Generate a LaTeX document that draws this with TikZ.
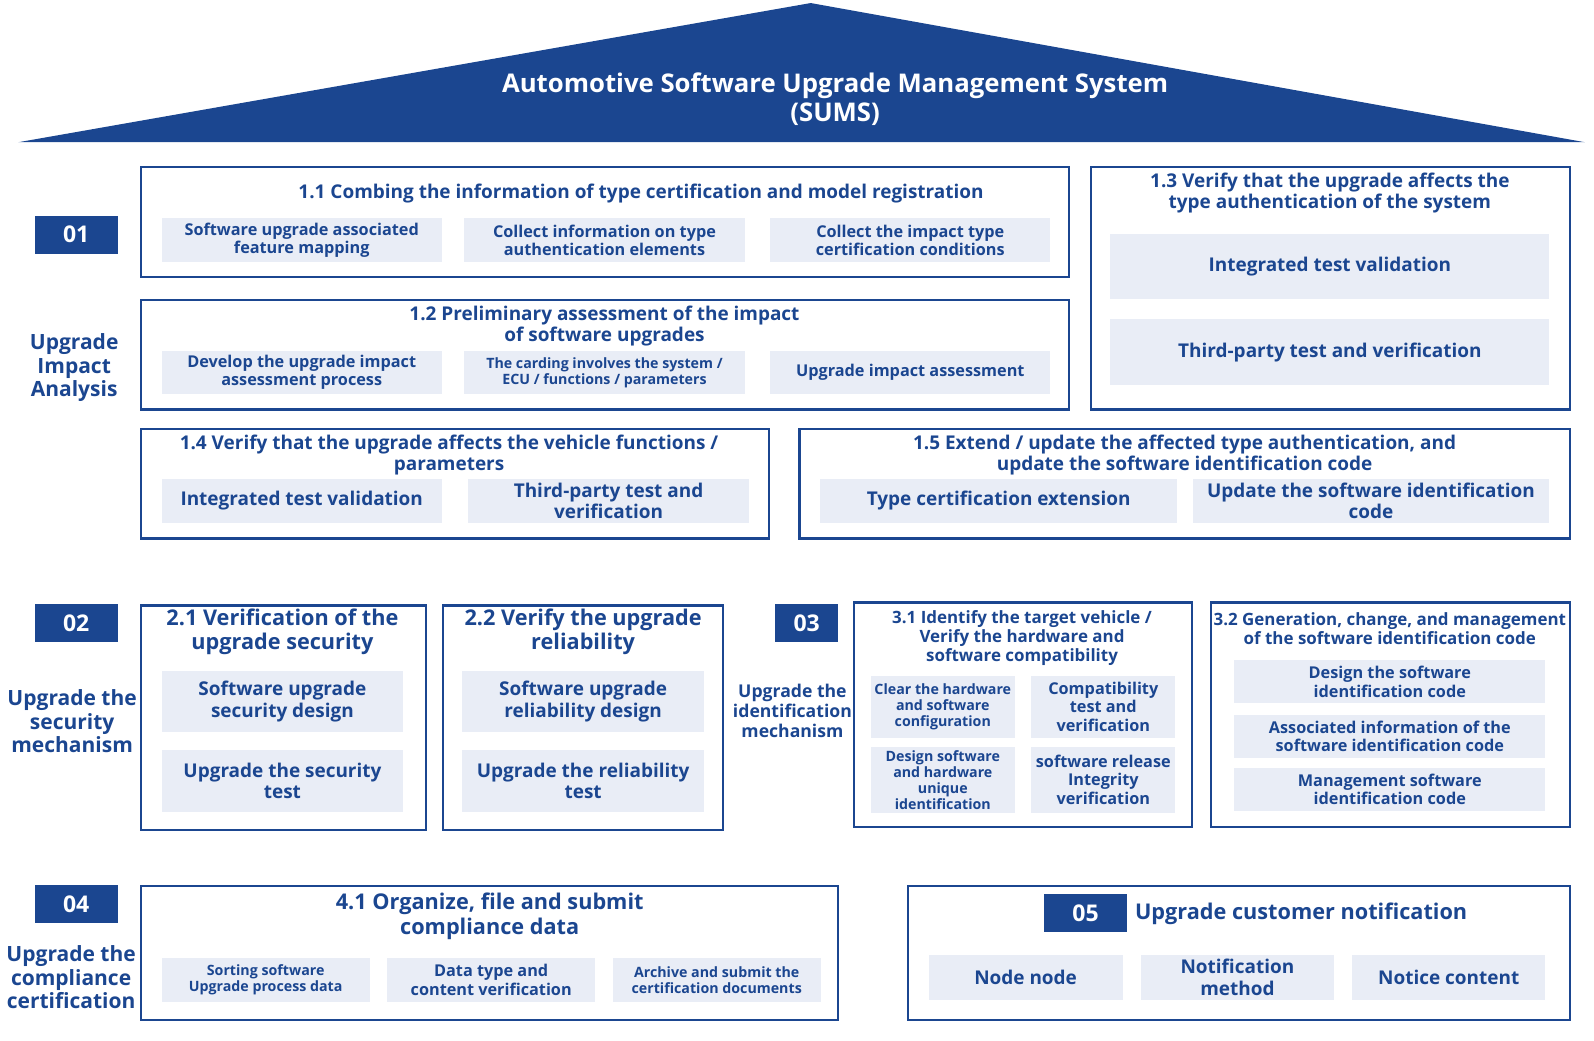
\documentclass[tikz,border=0pt]{standalone}
\usepackage{fontspec}
\setmainfont{Open Sans}
\definecolor{dk}{HTML}{1B4690}
\definecolor{lt}{HTML}{E9EDF6}
\newcommand\fz[1]{\fontsize{#1pt}{1.13\dimexpr#1pt\relax}\selectfont\bfseries}
\tikzset{frame/.style={draw=dk,line width=1.6pt},
  txt/.style={text=dk,align=center,inner sep=0pt},
  num/.style={fill=dk,text=white,minimum width=61.5pt,minimum height=28pt,inner sep=0pt}}
% cell: x1 y1 x2 y2 size text
\newcommand\cell[6]{\fill[lt] (#1,#2) rectangle (#3,#4);
  \node[txt,font=\fz{#5}] at ({(#1+#3)/2},{(#2+#4)/2}) {#6};}
\begin{document}
\begin{tikzpicture}[x=0.75pt,y=-0.75pt]
\useasboundingbox (0,0) rectangle (1569,1024);
\fill[dk] (18,140) -- (798,3) -- (1560,140) -- cycle;
\node[txt,text=white,font=\fz{19}] (title) at (822,98) {Automotive Software Upgrade Management System\\(SUMS)};
% 01
\node[num,font=\fz{17}] (n1) at (75,231) {01};
\node[txt,font=\fz{15.5}] (l1) at (73,362) {Upgrade\\Impact\\Analysis};
\draw[frame] (139,164) rectangle (1052,273);
\node[txt,font=\fz{14}] (h11) at (631,190) {1.1 Combing the information of type certification and model registration};
\cell{159}{215}{435}{258}{12}{Software upgrade associated\\feature mapping}
\cell{457}{215}{733}{258}{12}{Collect information on type\\authentication elements}
\cell{758}{215}{1034}{258}{12}{Collect the impact type\\certification conditions}
\draw[frame] (139,295) rectangle (1052,403);
\node[txt,font=\fz{14}] (h12) at (595,321) {1.2 Preliminary assessment of the impact\\of software upgrades};
\cell{159}{345}{435}{388}{12}{Develop the upgrade impact\\assessment process}
\cell{457}{345}{733}{388}{10.5}{The carding involves the system /\\ECU / functions / parameters}
\cell{758}{345}{1034}{388}{12}{Upgrade impact assessment}
\draw[frame] (1074,164) rectangle (1545,403);
\node[txt,font=\fz{14}] (h13) at (1309,190) {1.3 Verify that the upgrade affects the\\type authentication of the system};
\cell{1093}{230}{1525}{294}{14}{Integrated test validation}
\cell{1093}{314}{1525}{379}{14}{Third-party test and verification}
\draw[frame] (139,422) rectangle (757,530);
\node[txt,font=\fz{14}] (h14) at (442,448) {1.4 Verify that the upgrade affects the vehicle functions /\\parameters};
\cell{159}{471}{435}{515}{14}{Integrated test validation}
\cell{461}{471}{737}{515}{14}{Third-party test and\\verification}
\draw[frame] (787,422) rectangle (1545,530);
\node[txt,font=\fz{14}] (h15) at (1166,448) {1.5 Extend / update the affected type authentication, and\\update the software identification code};
\cell{807}{471}{1159}{515}{14}{Type certification extension}
\cell{1174}{471}{1525}{515}{14}{Update the software identification\\code}
% 02
\node[num,font=\fz{17}] (n2) at (75,613) {02};
\node[txt,font=\fz{15.5}] (l2) at (71,710) {Upgrade the\\security\\mechanism};
\draw[frame] (139,596) rectangle (419,817);
\node[txt,font=\fz{16}] (h21) at (278,622) {2.1 Verification of the\\upgrade security};
\cell{159}{660}{397}{721}{14}{Software upgrade\\security design}
\cell{159}{738}{397}{799}{14}{Upgrade the security\\test}
\draw[frame] (436,596) rectangle (712,817);
\node[txt,font=\fz{16}] (h22) at (574,622) {2.2 Verify the upgrade\\reliability};
\cell{455}{660}{693}{721}{14}{Software upgrade\\reliability design}
\cell{455}{738}{693}{799}{14}{Upgrade the reliability\\test}
% 03
\node[num,minimum width=46.5pt,font=\fz{17}] (n3) at (794,613) {03};
\node[txt,font=\fz{13}] (l3) at (780,700) {Upgrade the\\identification\\mechanism};
\draw[frame] (841,593) rectangle (1173,814);
\node[txt,font=\fz{12.5}] (h31) at (1006,628) {3.1 Identify the target vehicle /\\Verify the hardware and\\software compatibility};
\cell{857}{665}{999}{726}{10.5}{Clear the hardware\\and software\\configuration}
\cell{1015}{665}{1157}{726}{12}{Compatibility\\test and\\verification}
\cell{857}{735}{999}{800}{10.5}{Design software\\and hardware\\unique\\identification}
\cell{1015}{735}{1157}{800}{12}{software release\\Integrity\\verification}
\draw[frame] (1192,593) rectangle (1545,814);
\node[txt,font=\fz{12.5}] (h32) at (1368,619) {3.2 Generation, change, and management\\of the software identification code};
\cell{1215}{650}{1521}{692}{12}{Design the software\\identification code}
\cell{1215}{704}{1521}{746}{12}{Associated information of the\\software identification code}
\cell{1215}{756}{1521}{798}{12}{Management software\\identification code}
% 04
\node[num,font=\fz{17}] (n4) at (75,890) {04};
\node[txt,font=\fz{15.5}] (l4) at (70,962) {Upgrade the\\compliance\\certification};
\draw[frame] (139,872) rectangle (825,1004);
\node[txt,font=\fz{16}] (h41) at (482,902) {4.1 Organize, file and submit\\compliance data};
\cell{159}{943}{364}{986}{10.5}{Sorting software\\Upgrade process data}
\cell{381}{943}{586}{986}{12}{Data type and\\content verification}
\cell{603}{943}{808}{986}{10.5}{Archive and submit the\\certification documents}
% 05
\draw[frame] (894,872) rectangle (1545,1004);
\node[num,font=\fz{17}] (n5) at (1068.5,899) {05};
\node[txt,anchor=west,font=\fz{16}] (h5) at (1117,899) {Upgrade customer notification};
\cell{914}{940}{1105}{984}{14}{Node node}
\cell{1123}{940}{1313}{984}{14}{Notification\\method}
\cell{1331}{940}{1521}{984}{14}{Notice content}
\end{tikzpicture}
\end{document}
